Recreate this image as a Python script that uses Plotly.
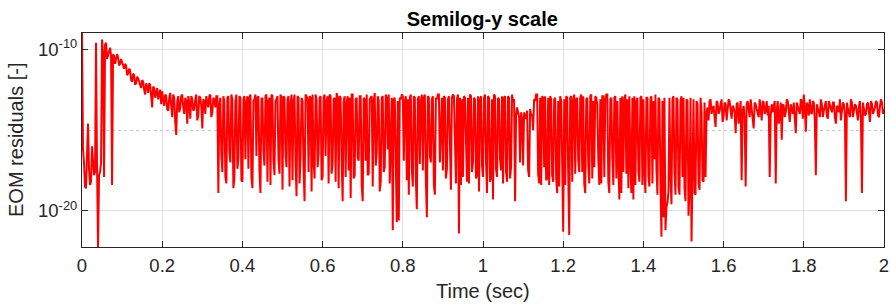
import numpy as np
import plotly.graph_objects as go

# time grid: 0 .. 2 s in 0.0025 s steps (main samples at multiples of 0.005, mid samples in between)
t_start = 0.0
t_step = 0.0025

# log10 of EOM residuals, one list per 0.2 s block.
# seg_x  : samples at t = block_start + 0.005*i
# mid_x  : samples at t = block_start + 0.005*i + 0.0025
seg_a = [-8.9, -17.0, -18.6, -14.6, -18.4, -16.0, -17.8, -9.6, -22.3, -17.6,
         -9.4, -17.9, -9.6, -10.3, -9.9, -18.4, -10.4, -10.6, -10.5, -10.9,
         -10.8, -11.2, -11.0, -11.5, -11.3, -12.0, -11.6, -12.1, -11.8, -12.3,
         -11.9, -12.5, -12.1, -12.7, -12.2, -13.6, -12.4, -12.6, -13.1, -12.5]
mid_a = [-16.2, -18.5, -15.6, -17.4, -18.2, -16.9, -17.6, -17.3, -17.8, -17.0,
         -10.2, -9.7, -10.6, -10.1, -10.4, -10.3, -10.9, -10.3, -11.0, -10.6,
         -11.1, -10.9, -11.6, -11.2, -11.9, -11.5, -12.2, -11.7, -12.0, -12.4,
         -12.0, -12.8, -12.3, -12.1, -12.9, -12.3, -13.0, -12.4, -12.7, -13.4]
seg_b = [-12.6, -13.5, -12.9, -13.8, -12.7, -14.2, -13.0, -15.3, -12.9, -13.6,
         -12.8, -14.0, -13.2, -12.9, -14.3, -13.1, -13.7, -12.8, -14.1, -13.0,
         -14.9, -13.2, -12.9, -13.6, -12.8, -13.9, -13.1, -12.9, -18.9, -13.0,
         -17.6, -13.2, -18.3, -12.9, -17.0, -13.1, -18.0, -12.8, -16.8, -13.0]
mid_b = [-13.1, -12.8, -13.7, -13.0, -13.5, -12.8, -14.5, -13.2, -13.9, -12.9,
         -13.6, -13.0, -14.6, -13.3, -12.9, -13.8, -13.1, -14.4, -12.9, -13.5,
         -13.1, -14.0, -13.3, -12.9, -14.2, -13.0, -13.6, -12.9, -13.4, -16.5,
         -12.9, -17.9, -13.0, -16.4, -12.8, -18.6, -13.2, -17.4, -12.9, -18.1]
seg_c = [-18.2, -12.9, -13.3, -17.4, -12.8, -18.6, -13.1, -16.6, -12.9, -18.9,
         -13.0, -17.2, -12.8, -13.2, -18.4, -12.9, -17.8, -13.1, -16.9, -12.8,
         -18.7, -13.0, -17.3, -12.9, -13.4, -18.1, -12.8, -19.1, -13.0, -16.7,
         -13.2, -19.4, -12.9, -17.6, -13.0, -12.8, -18.0, -13.1, -16.5, -12.9]
mid_c = [-13.1, -16.8, -12.9, -13.0, -17.9, -13.2, -12.8, -13.0, -17.5, -13.1,
         -16.3, -12.9, -18.2, -13.0, -12.8, -16.9, -13.2, -12.9, -17.7, -13.0,
         -12.9, -16.5, -13.1, -18.5, -12.8, -13.2, -17.0, -12.9, -18.3, -13.0,
         -17.4, -12.8, -13.1, -12.9, -18.8, -16.9, -12.8, -17.3, -13.0, -18.1]
seg_d = [-17.9, -12.8, -13.2, -18.3, -12.9, -17.1, -13.0, -12.7, -18.6, -13.0,
         -19.4, -12.9, -13.3, -17.5, -19.2, -12.8, -17.8, -13.0, -16.9, -12.9,
         -19.4, -13.1, -12.8, -17.7, -13.0, -18.5, -12.7, -16.4, -13.2, -18.2,
         -12.9, -17.3, -13.0, -12.8, -15.5, -21.2, -13.0, -20.7, -20.6, -13.1]
mid_d = [-13.0, -16.6, -12.9, -12.8, -17.7, -13.1, -18.2, -13.0, -12.9, -16.8,
         -13.2, -17.9, -12.9, -13.0, -12.8, -18.0, -13.1, -16.7, -12.9, -18.4,
         -13.0, -16.9, -17.8, -13.1, -12.9, -13.2, -17.2, -12.9, -18.8, -13.0,
         -17.6, -12.8, -16.2, -18.3, -13.0, -13.1, -17.4, -13.2, -13.0, -12.8]
seg_e = [-12.9, -13.2, -18.1, -19.0, -12.8, -18.5, -13.0, -19.9, -12.9, -13.2,
         -17.5, -12.8, -20.4, -13.0, -17.0, -12.9, -19.0, -13.1, -12.8, -15.0,
         -17.5, -13.0, -17.4, -12.9, -18.7, -12.8, -17.0, -13.1, -21.4, -18.4,
         -17.9, -13.0, -18.2, -18.3, -12.9, -17.0, -13.1, -17.8, -18.8, -12.9]
mid_e = [-16.9, -12.9, -13.1, -13.0, -17.4, -12.9, -18.0, -13.1, -17.1, -12.8,
         -13.0, -18.1, -12.9, -16.6, -13.1, -18.4, -13.0, -12.8, -17.0, -13.0,
         -12.9, -18.0, -13.1, -16.8, -13.0, -12.9, -18.3, -12.8, -13.0, -13.1,
         -12.9, -16.9, -13.0, -12.8, -17.6, -13.0, -18.0, -12.9, -13.1, -17.2]
seg_f = [-17.9, -12.8, -18.9, -13.0, -17.9, -19.3, -12.9, -17.9, -13.1, -17.5,
         -18.3, -12.9, -18.2, -13.0, -17.3, -13.2, -19.4, -13.6, -14.2, -13.9,
         -17.2, -14.3, -13.8, -17.9, -14.1, -15.0, -13.2, -12.8, -18.3, -18.4,
         -13.0, -12.9, -18.0, -18.4, -13.1, -18.2, -13.0, -18.9, -18.5, -13.2]
mid_f = [-13.0, -16.9, -12.9, -18.2, -13.1, -12.8, -17.4, -13.0, -16.8, -12.9,
         -13.0, -17.6, -12.9, -18.0, -12.8, -13.1, -14.1, -13.9, -17.0, -14.3,
         -13.9, -14.2, -17.5, -13.7, -14.0, -13.1, -12.8, -17.7, -13.0, -12.9,
         -17.3, -18.1, -13.0, -12.9, -17.8, -13.1, -18.0, -13.2, -12.9, -17.1]
seg_g = [-21.3, -18.4, -13.0, -21.5, -12.9, -13.2, -17.7, -13.0, -17.6, -12.8,
         -12.9, -18.9, -13.0, -18.3, -12.8, -13.2, -12.9, -13.4, -18.4, -18.3,
         -12.9, -13.1, -12.8, -18.9, -13.0, -18.4, -12.9, -13.2, -19.3, -18.9,
         -17.6, -12.8, -13.1, -12.9, -18.9, -19.3, -18.4, -13.0, -18.2, -12.9]
mid_g = [-13.1, -12.9, -17.8, -13.0, -18.2, -12.8, -13.1, -16.9, -13.0, -17.6,
         -18.3, -13.1, -17.2, -12.9, -18.0, -17.3, -13.0, -16.8, -13.1, -12.9,
         -17.9, -12.8, -18.2, -13.1, -16.7, -13.0, -18.0, -17.1, -13.0, -12.9,
         -13.1, -17.7, -18.6, -17.0, -13.0, -12.9, -13.2, -17.5, -13.0, -18.4]
seg_h = [-13.1, -18.9, -13.0, -18.5, -12.9, -13.2, -12.8, -19.0, -13.1, -21.6,
         -20.4, -21.2, -19.5, -13.0, -19.6, -12.9, -19.0, -13.1, -19.0, -12.9,
         -13.0, -19.4, -13.2, -18.7, -21.9, -13.1, -19.0, -13.4, -18.7, -13.9,
         -18.2, -17.9, -13.6, -13.2, -14.0, -13.5, -14.8, -13.3, -13.8, -13.1]
mid_h = [-17.6, -13.0, -17.9, -13.1, -18.3, -16.8, -17.4, -13.0, -18.1, -13.2,
         -13.0, -19.8, -18.8, -17.9, -13.1, -17.6, -13.0, -18.5, -13.2, -17.9,
         -18.6, -13.1, -20.3, -13.0, -17.4, -18.9, -13.2, -18.3, -13.0, -18.1,
         -13.3, -13.9, -14.4, -13.1, -13.7, -14.2, -13.2, -14.0, -13.4, -14.5]
seg_i = [-14.1, -13.4, -13.9, -13.2, -14.3, -13.6, -15.2, -13.3, -14.0, -18.1,
         -13.5, -18.5, -13.2, -14.2, -13.7, -14.9, -13.4, -13.9, -13.1, -14.4,
         -13.3, -13.8, -14.1, -17.9, -13.4, -13.6, -18.3, -13.2, -14.2, -15.6,
         -13.5, -13.9, -13.2, -14.5, -13.7, -13.3, -15.2, -13.6, -14.0, -13.2]
mid_i = [-13.3, -14.4, -13.1, -14.0, -13.5, -13.9, -13.4, -14.6, -13.2, -13.8,
         -14.3, -13.4, -13.9, -13.1, -14.5, -13.3, -13.7, -14.2, -13.6, -13.2,
         -14.0, -13.2, -13.5, -14.1, -13.9, -13.2, -13.8, -14.6, -13.3, -13.4,
         -14.2, -13.1, -13.8, -13.4, -14.0, -14.7, -13.3, -13.9, -13.1, -14.3]
seg_j = [-12.8, -15.1, -13.5, -13.1, -14.0, -13.3, -17.8, -13.6, -14.2, -13.4,
         -13.8, -13.2, -14.3, -13.5, -13.9, -13.3, -14.6, -13.6, -13.1, -14.0,
         -13.4, -19.4, -13.7, -14.2, -13.3, -13.9, -13.5, -14.4, -13.2, -18.9,
         -13.6, -14.0, -13.3, -14.5, -13.4, -13.8, -13.2, -14.1, -13.5, -13.3,
         -13.7]
mid_j = [-13.6, -13.3, -14.1, -13.9, -13.2, -14.4, -13.4, -13.9, -13.1, -14.2,
         -13.4, -14.1, -13.2, -13.8, -13.3, -14.2, -13.5, -13.9, -14.4, -13.3,
         -14.0, -13.3, -13.9, -13.1, -14.2, -13.4, -14.1, -13.5, -14.3, -13.3,
         -14.1, -13.4, -13.8, -13.2, -14.0, -13.6, -13.3, -14.2, -13.1, -14.0]

x_ticks = [0, 0.2, 0.4, 0.6, 0.8, 1, 1.2, 1.4, 1.6, 1.8, 2]
x_ticklabels = ["0", "0.2", "0.4", "0.6", "0.8", "1", "1.2", "1.4", "1.6", "1.8", "2"]
y_ticks = [1e-20, 1e-10]
y_ticklabels = ["10<sup>-20</sup>", "10<sup>-10</sup>"]
y_minor_ticks = [1e-15]

blocks = [(seg_a, mid_a), (seg_b, mid_b), (seg_c, mid_c), (seg_d, mid_d), (seg_e, mid_e),
          (seg_f, mid_f), (seg_g, mid_g), (seg_h, mid_h), (seg_i, mid_i), (seg_j, mid_j)]
log_vals = []
for main, mid in blocks:
    for k in range(len(main)):
        log_vals.append(main[k])
        if k < len(mid):
            log_vals.append(mid[k])
log_vals = np.array(log_vals)
time = t_start + t_step * np.arange(len(log_vals))
resid = 10.0 ** log_vals

axis_col = "#262626"
grid_col = "#e0e0e0"
font_fam = "Liberation Sans, Arial, Helvetica, sans-serif"

fig = go.Figure()
fig.add_trace(go.Scatter(x=time, y=resid, mode="lines",
                         line=dict(color="#ff0000", width=2), showlegend=False))

fig.update_layout(
    width=891, height=306,
    margin=dict(l=82, r=7, t=33, b=59),
    paper_bgcolor="white", plot_bgcolor="white",
    font=dict(family=font_fam, color=axis_col, size=18),
    title=dict(text="<b>Semilog-y scale</b>", x=0.5413, xanchor="center",
               y=1 - 19 / 306, yanchor="middle", yref="container",
               font=dict(size=20, color="#000000", family=font_fam)),
    annotations=[
        dict(text="Time (sec)", xref="paper", yref="paper", x=0.5, y=-0.2056,
             xanchor="center", yanchor="middle", showarrow=False,
             font=dict(size=20, color=axis_col, family=font_fam)),
        dict(text="EOM residuals [-]", xref="paper", yref="paper", x=-0.0823, y=0.5,
             xanchor="center", yanchor="middle", textangle=-90, showarrow=False,
             font=dict(size=20, color=axis_col, family=font_fam)),
    ],
)
fig.update_xaxes(
    range=[0, 2.000001], tickvals=x_ticks, ticktext=x_ticklabels,
    showline=True, linecolor=axis_col, linewidth=1, mirror="ticks",
    ticks="inside", ticklen=6, tickcolor=axis_col, ticklabeloverflow="allow",
    showgrid=True, gridcolor=grid_col, gridwidth=1, zeroline=False,
    automargin=False, ticklabelstandoff=2,
    tickfont=dict(size=18.5, color=axis_col),
)
fig.update_yaxes(
    type="log", range=[-22.24, -8.99], tickvals=y_ticks, ticktext=y_ticklabels,
    showline=True, linecolor=axis_col, linewidth=1, mirror="ticks",
    ticks="inside", ticklen=6, tickcolor=axis_col,
    showgrid=True, gridcolor=grid_col, gridwidth=1, zeroline=False,
    automargin=False,
    minor=dict(tickvals=y_minor_ticks, showgrid=True, gridcolor="#c8c8c8",
               griddash="dot", ticks="", gridwidth=1),
    tickfont=dict(size=18.5, color=axis_col),
)

fig.write_html("out.html", config={"displayModeBar": False},
               post_script="document.body.style.margin='0px';document.body.style.overflow='hidden';")
